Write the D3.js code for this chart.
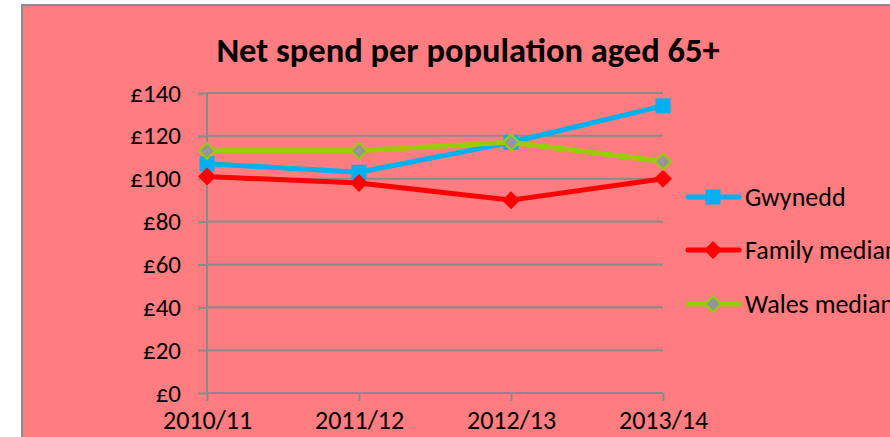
<!DOCTYPE html>
<html><head><meta charset="utf-8">
<script src="https://cdn.jsdelivr.net/npm/d3@7"></script>
<style>html,body{margin:0;padding:0;background:#fff;}svg{display:block;}</style>
</head><body><svg id="c" width="890" height="437"></svg>
<script>
const categories = ["2010/11","2011/12","2012/13","2013/14"];
const gwynedd = [107, 103, 117, 134];
const familyMedian = [101, 98, 90, 100];
const walesMedian = [113, 113, 117, 108];
const yTicks = [0,20,40,60,80,100,120,140];
const yTickLabels = ["£0","£20","£40","£60","£80","£100","£120","£140"];
const seriesNames = ["Gwynedd","Family median","Wales median"];

const svg = d3.select("#c");
const font = "Carlito, Calibri, Lato, 'Open Sans', sans-serif";
svg.append("rect").attr("x",22).attr("y",5).attr("width",880).attr("height",440)
  .attr("fill","#FF7C80").attr("stroke","#8c8c8c").attr("stroke-width",2);

const x = d3.scalePoint().domain(categories).range([207,663]);
const y = d3.scaleLinear().domain([0,140]).range([393,93]);

svg.append("g").selectAll("line").data(yTicks.slice(1)).join("line")
  .attr("x1",207).attr("x2",663).attr("y1",d=>y(d)).attr("y2",d=>y(d))
  .attr("stroke","#8a8a8a").attr("stroke-width",2);

const yAxis = svg.append("g").attr("transform","translate(207,0)")
  .call(d3.axisLeft(y).tickValues(yTicks).tickFormat((d,i)=>yTickLabels[i]).tickSize(9).tickPadding(17));
const xAxis = svg.append("g").attr("transform","translate(0,393)")
  .call(d3.axisBottom(x).tickSize(8).tickPadding(10));
[yAxis,xAxis].forEach(a=>{
  a.select(".domain").attr("stroke","#8a8a8a").attr("stroke-width",2);
  a.selectAll(".tick line").attr("stroke","#8a8a8a").attr("stroke-width",2);
  a.selectAll("text").attr("fill","#000").style("font-family",font).style("font-size","25px");
});
xAxis.selectAll("text").style("font-size","26px");
xAxis.select(".domain").attr("d","M207,0H663");
yAxis.select(".domain").attr("d","M0,393V93");
xAxis.selectAll(".tick text").attr("dy","0.71em");

const series = [
  {name:seriesNames[0], vals:gwynedd, color:"#00B0F0", marker:"square"},
  {name:seriesNames[1], vals:familyMedian, color:"#FF0000", marker:"diamond"},
  {name:seriesNames[2], vals:walesMedian, color:"#99CC00", marker:"diamond2"}
];
const line = d3.line().x((d,i)=>x(categories[i])).y(d=>y(d));

function drawMarker(g, s, cx, cy){
  if(s.marker==="square"){
    g.append("rect").attr("x",cx-7.5).attr("y",cy-7.5).attr("width",15).attr("height",15).attr("fill",s.color);
  } else if(s.marker==="diamond"){
    g.append("path").attr("d",`M${cx},${cy-9}L${cx+9},${cy}L${cx},${cy+9}L${cx-9},${cy}Z`).attr("fill",s.color);
  } else {
    g.append("path").attr("d",`M${cx},${cy-8}L${cx+8},${cy}L${cx},${cy+8}L${cx-8},${cy}Z`)
      .attr("fill","#969696").attr("stroke",s.color).attr("stroke-width",2);
  }
}
series.forEach(s=>{
  const g = svg.append("g");
  g.append("path").attr("d",line(s.vals)).attr("fill","none").attr("stroke",s.color)
    .attr("stroke-width",5).attr("stroke-linejoin","round");
  s.vals.forEach((v,i)=>drawMarker(g,s,x(categories[i]),y(v)));
});

const legY = [197,250,304];
series.forEach((s,i)=>{
  const g = svg.append("g");
  g.append("line").attr("x1",688).attr("x2",739).attr("y1",legY[i]).attr("y2",legY[i])
    .attr("stroke",s.color).attr("stroke-width",5).attr("stroke-linecap","round");
  drawMarker(g,s,713,legY[i]);
  g.append("text").attr("x",745).attr("y",legY[i]).attr("dy","0.35em")
    .style("font-family",font).style("font-size","26px").text(s.name);
});

svg.append("text").attr("x",468).attr("y",50).attr("dy","0.35em").attr("text-anchor","middle")
  .style("font-family",font).style("font-size","34.5px").style("font-weight","bold")
  .text("Net spend per population aged 65+");
</script></body></html>
